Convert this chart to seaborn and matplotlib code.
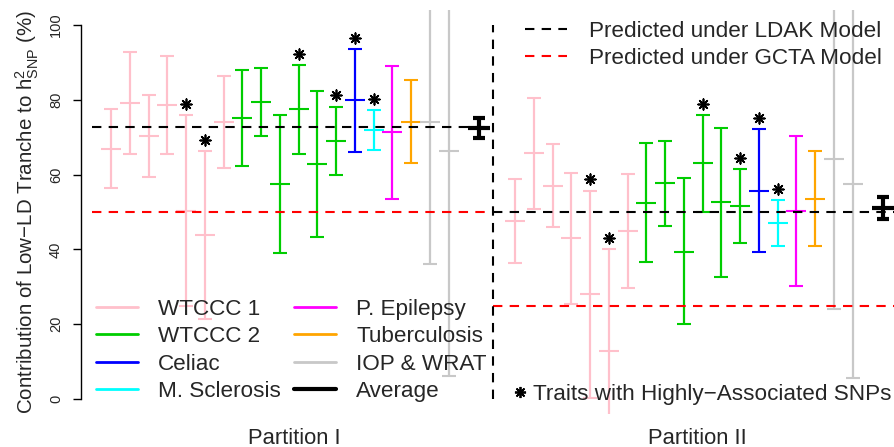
import numpy as np
import matplotlib
matplotlib.use("Agg")
import matplotlib.pyplot as plt
from matplotlib.lines import Line2D
import seaborn as sns

sns.set_style("white")
plt.rcParams["font.family"] = ["Liberation Sans", "DejaVu Sans"]
plt.rcParams["mathtext.fontset"] = "custom"
plt.rcParams["mathtext.rm"] = "Liberation Sans"
plt.rcParams["mathtext.it"] = "Liberation Sans:italic"

# Cohort of each trait (19 traits, same order in both partitions)
cohorts = (["WTCCC 1"] * 7 + ["WTCCC 2"] * 6 +
           ["Celiac", "M. Sclerosis", "P. Epilepsy", "Tuberculosis"] +
           ["IOP & WRAT"] * 2)
cohort_colors = {
    "WTCCC 1": "#FFC0CB", "WTCCC 2": "#00CD00", "Celiac": "#0000FF",
    "M. Sclerosis": "#00FFFF", "P. Epilepsy": "#FF00FF",
    "Tuberculosis": "#FFA500", "IOP & WRAT": "#C8C8C8",
}
# Traits containing highly-associated SNPs
highly_assoc = [0, 0, 0, 0, 1, 1, 0, 0, 0, 0, 1, 0, 1, 1, 1, 0, 0, 0, 0]

# Partition I: estimate and 95% interval (%)
p1_est = [66.9, 79.2, 70.3, 78.6, 50.3, 43.9, 74.1, 75.0, 79.4, 57.5,
          77.5, 62.9, 69.0, 80.0, 71.9, 71.3, 74.1, 74.0, 66.3]
p1_lo = [56.5, 65.5, 59.4, 65.5, 24.9, 21.4, 61.8, 62.2, 70.3, 39.0,
         65.6, 43.2, 59.9, 66.1, 66.5, 53.6, 63.0, 36.0, 6.2]
p1_hi = [77.5, 92.8, 81.2, 91.7, 75.9, 66.3, 86.4, 87.9, 88.5, 75.9,
         89.3, 82.4, 78.2, 93.6, 77.3, 89.0, 85.3, 115.0, 115.0]
p1_avg = [72.5, 69.7, 75.2]   # estimate, lower, upper

# Partition II
p2_est = [47.7, 65.7, 57.0, 43.0, 28.1, 12.9, 44.9, 52.5, 57.7, 39.4,
          63.0, 52.7, 51.6, 55.7, 47.1, 50.3, 53.5, 64.3, 57.5]
p2_lo = [36.4, 50.9, 46.1, 25.5, 0.4, -8.0, 29.8, 36.6, 46.3, 20.0,
         49.9, 32.7, 41.6, 39.2, 41.0, 30.2, 40.8, 24.2, 5.6]
p2_hi = [58.7, 80.5, 68.1, 60.5, 55.7, 40.0, 60.1, 68.4, 69.0, 59.0,
         76.0, 72.4, 61.5, 72.2, 53.2, 70.3, 66.3, 115.0, 115.0]
p2_avg = [51.0, 48.0, 54.1]

# Expected contribution under each model, per partition
ldak_pred = [72.8, 50.0]
gcta_pred = [50.0, 25.0]

partition_names = ["Partition I", "Partition II"]

FS = 16.2
DASH = (0, (4.5, 3.5))

fig = plt.figure(figsize=(8.94, 4.47), dpi=100)
ax = fig.add_axes([81 / 894, 1 - 414 / 447, 813 / 894, 404 / 447])
ax.set_xlim(-0.6, 42.76)
ax.set_ylim(-4, 104)

offsets = [0.0, 21.55]
divider = 21.37
spans = [(0.0, divider), (divider, 44.0)]

for part, (est, lo, hi, avg) in enumerate([(p1_est, p1_lo, p1_hi, p1_avg),
                                           (p2_est, p2_lo, p2_hi, p2_avg)]):
    off = offsets[part]
    xs = np.arange(1, len(est) + 1) + off
    est = np.asarray(est); lo = np.asarray(lo); hi = np.asarray(hi)
    for i in range(len(est)):
        c = cohort_colors[cohorts[i]]
        ax.errorbar(xs[i], est[i], yerr=[[est[i] - lo[i]], [hi[i] - est[i]]],
                    fmt="_", color=c, ecolor=c, ms=14.5, mew=1.5,
                    elinewidth=1.6, capsize=4.7, capthick=1.5, zorder=2)
    # asterisks above traits with highly-associated SNPs
    flag = np.asarray(highly_assoc, dtype=bool)
    sns.scatterplot(x=xs[flag], y=hi[flag] + 3, marker=(8, 2, 0), s=58,
                    color="black", linewidth=1.25, ax=ax, zorder=4)
    # average over traits
    ax.errorbar(20.6 + off, avg[0], yerr=[[avg[0] - avg[1]], [avg[2] - avg[0]]],
                fmt="_", color="black", ecolor="black", ms=16, mew=3,
                elinewidth=3, capsize=4.5, capthick=3, zorder=5)
    x0, x1 = spans[part]
    ax.plot([x0, x1], [ldak_pred[part]] * 2, color="black", lw=1.5,
            ls=DASH, zorder=3)
    ax.plot([x0, x1], [gcta_pred[part]] * 2, color="red", lw=1.5,
            ls=DASH, zorder=3)

ax.plot([divider, divider], [0, 100], color="black", lw=1.5, ls=DASH, zorder=3)

# axes styling
for s in ["top", "right", "bottom"]:
    ax.spines[s].set_visible(False)
ax.spines["left"].set_bounds(0, 100)
ax.spines["left"].set_linewidth(1.0)
ax.spines["left"].set_color("black")
ax.set_xticks([])
ax.set_yticks([0, 20, 40, 60, 80, 100])
ax.tick_params(axis="y", left=True, length=6, width=1.0, color="black",
               labelsize=10.5, pad=7)
for lab in ax.get_yticklabels():
    lab.set_rotation(90)
    lab.set_va("center")
ax.set_ylabel("Contribution of Low\u2212LD Tranche to h$^{2}_{\\mathrm{SNP}}$ (%)",
              fontsize=14.8, labelpad=6)

fig.text(294 / 894, 1 - 438 / 447, partition_names[0], fontsize=15.8,
         ha="center", va="center")
fig.text(697 / 894, 1 - 438 / 447, partition_names[1], fontsize=15.8,
         ha="center", va="center")

# cohort legend
order = ["WTCCC 1", "WTCCC 2", "Celiac", "M. Sclerosis",
         "P. Epilepsy", "Tuberculosis", "IOP & WRAT"]
handles = [Line2D([], [], color=cohort_colors[k], lw=2) for k in order]
handles.append(Line2D([], [], color="black", lw=3))
labels = order + ["Average"]
leg1 = ax.legend(handles, labels, ncol=2, frameon=False, fontsize=FS,
                 handlelength=1.85, handletextpad=0.9, columnspacing=0.6,
                 labelspacing=0.28, borderpad=0, borderaxespad=0,
                 loc="upper left",
                 bbox_to_anchor=(96 / 894, 1 - 299 / 447),
                 bbox_transform=fig.transFigure)
ax.add_artist(leg1)

# model legend
mh = [Line2D([], [], color="black", lw=1.5, ls=DASH),
      Line2D([], [], color="red", lw=1.5, ls=DASH)]
leg2 = ax.legend(mh, ["Predicted under LDAK Model", "Predicted under GCTA Model"],
                 frameon=False, fontsize=FS, handlelength=1.85,
                 handletextpad=1.0, labelspacing=0.28, borderpad=0,
                 borderaxespad=0, loc="upper left",
                 bbox_to_anchor=(525 / 894, 1 - 21 / 447),
                 bbox_transform=fig.transFigure)
ax.add_artist(leg2)

# asterisk legend
ah = [Line2D([], [], color="black", marker=(8, 2, 0), ms=8, mew=1.3, lw=0)]
ax.legend(ah, ["Traits with Highly\u2212Associated SNPs"], frameon=False,
          fontsize=FS, handlelength=0.6, handletextpad=0.3, borderpad=0,
          borderaxespad=0, loc="upper left",
          bbox_to_anchor=(513 / 894, 1 - 384 / 447),
          bbox_transform=fig.transFigure)

fig.savefig("out.png", dpi=100)
